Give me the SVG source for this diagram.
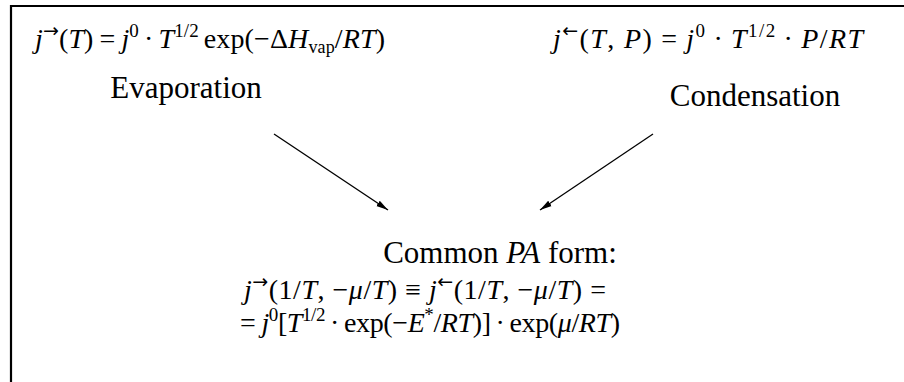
<svg xmlns="http://www.w3.org/2000/svg" width="904" height="382" viewBox="0 0 904 382">
<style>
.t{font-family:"Liberation Serif","Times New Roman",serif;font-size:28px;fill:#000;white-space:pre}
.l{font-size:31px}
.i{font-style:italic}
.s{font-size:19px}
.b{font-size:18px}
.a{font-family:"DejaVu Sans",sans-serif;font-size:19px}
.c{stroke:#000;stroke-width:1.3;fill:none}
</style>
<defs>
<marker id="ah" viewBox="0 0 12 8" refX="12" refY="4" markerWidth="12" markerHeight="8" markerUnits="userSpaceOnUse" orient="auto">
<path d="M0,0.8 L12,4 L0,7.2 Z" fill="#000"/>
</marker>
</defs>
<rect width="904" height="382" fill="#fff"/>
<path d="M11,382 V6 H904" fill="none" stroke="#000" stroke-width="2.2"/>
<g id="evap">
<text class="t" x="35" y="48" textLength="350" lengthAdjust="spacing"><tspan class="i">j</tspan><tspan class="a" dy="-11">→</tspan><tspan dy="11">(</tspan><tspan class="i">T</tspan><tspan>)</tspan><tspan dx="6">=</tspan><tspan class="i" dx="6">j</tspan><tspan class="s" dy="-11">0</tspan><tspan dy="11" dx="5">·</tspan><tspan class="i" dx="5">T</tspan><tspan class="s" dy="-11">1/2</tspan><tspan dy="11" dx="5">exp(−Δ</tspan><tspan class="i">H</tspan><tspan class="b" dy="5">vap</tspan><tspan dy="-5">/</tspan><tspan class="i">RT</tspan><tspan>)</tspan></text>
<text class="t l" x="186" y="98" text-anchor="middle">Evaporation</text>
</g>
<g id="cond">
<text class="t" x="553" y="48" textLength="310" lengthAdjust="spacing"><tspan class="i">j</tspan><tspan class="a" dy="-11">←</tspan><tspan dy="11">(</tspan><tspan class="i">T</tspan><tspan>, </tspan><tspan class="i">P</tspan><tspan>)</tspan><tspan dx="8">=</tspan><tspan class="i" dx="8">j</tspan><tspan class="s" dy="-11">0</tspan><tspan dy="11" dx="7">·</tspan><tspan class="i" dx="7">T</tspan><tspan class="s" dy="-11">1/2</tspan><tspan dy="11" dx="7">·</tspan><tspan class="i" dx="7">P</tspan><tspan>/</tspan><tspan class="i">RT</tspan></text>
<text class="t l" x="755" y="106" text-anchor="middle">Condensation</text>
</g>
<g id="common">
<text class="t l" x="500" y="263" text-anchor="middle">Common <tspan class="i">PA</tspan> form:</text>
<text class="t" x="244" y="299" textLength="362" lengthAdjust="spacing"><tspan class="i">j</tspan><tspan class="a" dy="-11">→</tspan><tspan dy="11">(1/</tspan><tspan class="i">T</tspan><tspan>, −</tspan><tspan class="i">μ</tspan><tspan>/</tspan><tspan class="i">T</tspan><tspan>) ≡ </tspan><tspan class="i">j</tspan><tspan class="a" dy="-11">←</tspan><tspan dy="11">(1/</tspan><tspan class="i">T</tspan><tspan>, −</tspan><tspan class="i">μ</tspan><tspan>/</tspan><tspan class="i">T</tspan><tspan>) =</tspan></text>
<text class="t" x="240" y="332" textLength="380" lengthAdjust="spacing"><tspan>=</tspan><tspan class="i" dx="6">j</tspan><tspan class="s" dy="-11">0</tspan><tspan dy="11">[</tspan><tspan class="i">T</tspan><tspan class="s" dy="-11">1/2</tspan><tspan dy="11" dx="5">·</tspan><tspan dx="5">exp(−</tspan><tspan class="i">E</tspan><tspan class="s" dy="-11">*</tspan><tspan dy="11">/</tspan><tspan class="i">RT</tspan><tspan>)]</tspan><tspan dx="5">·</tspan><tspan dx="5">exp(</tspan><tspan class="i">μ</tspan><tspan>/</tspan><tspan class="i">RT</tspan><tspan>)</tspan></text>
</g>
<g id="connectors">
<line class="c" x1="274" y1="134" x2="388" y2="210" marker-end="url(#ah)"/>
<line class="c" x1="653" y1="134" x2="540" y2="210" marker-end="url(#ah)"/>
</g>
</svg>
